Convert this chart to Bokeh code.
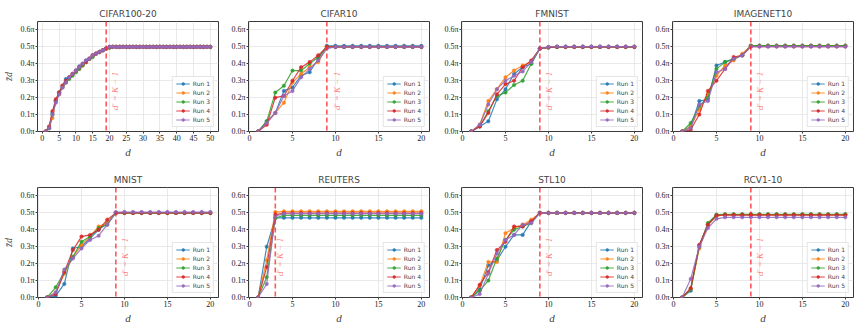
import math
from bokeh.plotting import figure
from bokeh.layouts import column, row
from bokeh.models import Span, Label, FixedTicker, CustomJSTickFormatter, Range1d, AllLabels
from bokeh.embed import file_html
from bokeh.resources import INLINE

runs = ["Run 1", "Run 2", "Run 3", "Run 4", "Run 5"]
colors = ["#1f77b4", "#ff7f0e", "#2ca02c", "#d62728", "#9467bd"]
titles = ["CIFAR100-20", "CIFAR10", "FMNIST", "IMAGENET10", "MNIST", "REUTERS", "STL10", "RCV1-10"]
k_minus_1 = [19, 9, 9, 9, 9, 3, 9, 9]
y_ticks = [0.0, 0.1, 0.2, 0.3, 0.4, 0.5, 0.6]
x_ticks_50 = [0, 5, 10, 15, 20, 25, 30, 35, 40, 45, 50]
x_ticks_20 = [0, 5, 10, 15, 20]
d_50 = list(range(1, 51))
d_20 = list(range(1, 21))

# values in units of pi
cifar100_20 = [
    [0.0, 0.02, 0.11, 0.18, 0.23, 0.27, 0.31, 0.32, 0.34, 0.36, 0.385, 0.40, 0.42, 0.43, 0.45, 0.46, 0.47, 0.48, 0.49, 0.50,
     0.5, 0.5, 0.5, 0.5, 0.5, 0.5, 0.5, 0.5, 0.5, 0.5,
     0.5, 0.5, 0.5, 0.5, 0.5, 0.5, 0.5, 0.5, 0.5, 0.5,
     0.5, 0.5, 0.5, 0.5, 0.5, 0.5, 0.5, 0.5, 0.5, 0.5],
    [0.0, 0.02, 0.08, 0.18, 0.22, 0.27, 0.29, 0.32, 0.34, 0.355, 0.37, 0.39, 0.41, 0.43, 0.45, 0.46, 0.47, 0.48, 0.49, 0.495,
     0.5, 0.5, 0.5, 0.5, 0.5, 0.5, 0.5, 0.5, 0.5, 0.5,
     0.5, 0.5, 0.5, 0.5, 0.5, 0.5, 0.5, 0.5, 0.5, 0.5,
     0.5, 0.5, 0.5, 0.5, 0.5, 0.5, 0.5, 0.5, 0.5, 0.5],
    [0.0, 0.02, 0.10, 0.18, 0.23, 0.26, 0.29, 0.31, 0.33, 0.35, 0.37, 0.39, 0.41, 0.43, 0.44, 0.46, 0.47, 0.48, 0.49, 0.495,
     0.5, 0.5, 0.5, 0.5, 0.5, 0.5, 0.5, 0.5, 0.5, 0.5,
     0.5, 0.5, 0.5, 0.5, 0.5, 0.5, 0.5, 0.5, 0.5, 0.5,
     0.5, 0.5, 0.5, 0.5, 0.5, 0.5, 0.5, 0.5, 0.5, 0.5],
    [0.0, 0.03, 0.12, 0.19, 0.23, 0.27, 0.30, 0.32, 0.34, 0.36, 0.38, 0.40, 0.41, 0.43, 0.45, 0.46, 0.47, 0.48, 0.49, 0.50,
     0.5, 0.5, 0.5, 0.5, 0.5, 0.5, 0.5, 0.5, 0.5, 0.5,
     0.5, 0.5, 0.5, 0.5, 0.5, 0.5, 0.5, 0.5, 0.5, 0.5,
     0.5, 0.5, 0.5, 0.5, 0.5, 0.5, 0.5, 0.5, 0.5, 0.5],
    [0.0, 0.02, 0.10, 0.17, 0.22, 0.26, 0.29, 0.32, 0.34, 0.36, 0.38, 0.40, 0.42, 0.43, 0.45, 0.46, 0.47, 0.48, 0.49, 0.50,
     0.5, 0.5, 0.5, 0.5, 0.5, 0.5, 0.5, 0.5, 0.5, 0.5,
     0.5, 0.5, 0.5, 0.5, 0.5, 0.5, 0.5, 0.5, 0.5, 0.5,
     0.5, 0.5, 0.5, 0.5, 0.5, 0.5, 0.5, 0.5, 0.5, 0.5],
]

cifar10 = [
    [0.0, 0.06, 0.11, 0.24, 0.26, 0.33, 0.35, 0.43, 0.506, 0.506, 0.506, 0.506, 0.506, 0.506, 0.506, 0.506, 0.506, 0.506, 0.506, 0.506],
    [0.0, 0.05, 0.11, 0.17, 0.29, 0.34, 0.38, 0.41, 0.50, 0.5, 0.5, 0.5, 0.5, 0.5, 0.5, 0.5, 0.5, 0.5, 0.5, 0.5],
    [0.0, 0.06, 0.23, 0.27, 0.36, 0.36, 0.40, 0.44, 0.50, 0.5, 0.5, 0.5, 0.5, 0.5, 0.5, 0.5, 0.5, 0.5, 0.5, 0.5],
    [0.0, 0.04, 0.20, 0.21, 0.30, 0.38, 0.41, 0.45, 0.50, 0.5, 0.5, 0.5, 0.5, 0.5, 0.5, 0.5, 0.5, 0.5, 0.5, 0.5],
    [0.0, 0.05, 0.11, 0.21, 0.24, 0.32, 0.37, 0.42, 0.49, 0.5, 0.5, 0.5, 0.5, 0.5, 0.5, 0.5, 0.5, 0.5, 0.5, 0.5],
]

fmnist = [
    [0.0, 0.03, 0.06, 0.19, 0.25, 0.34, 0.38, 0.40, 0.49, 0.497, 0.5, 0.5, 0.5, 0.5, 0.5, 0.5, 0.5, 0.5, 0.5, 0.5],
    [0.0, 0.04, 0.18, 0.25, 0.32, 0.36, 0.39, 0.41, 0.49, 0.497, 0.5, 0.5, 0.5, 0.5, 0.5, 0.5, 0.5, 0.5, 0.5, 0.5],
    [0.0, 0.03, 0.12, 0.21, 0.23, 0.275, 0.30, 0.40, 0.49, 0.497, 0.5, 0.5, 0.5, 0.5, 0.5, 0.5, 0.5, 0.5, 0.5, 0.5],
    [0.0, 0.03, 0.11, 0.22, 0.28, 0.30, 0.38, 0.42, 0.49, 0.497, 0.5, 0.5, 0.5, 0.5, 0.5, 0.5, 0.5, 0.5, 0.5, 0.5],
    [0.0, 0.04, 0.16, 0.25, 0.30, 0.33, 0.355, 0.41, 0.49, 0.5, 0.502, 0.502, 0.502, 0.502, 0.502, 0.502, 0.502, 0.502, 0.502, 0.502],
]

imagenet10 = [
    [0.0, 0.03, 0.18, 0.19, 0.39, 0.41, 0.43, 0.45, 0.507, 0.507, 0.507, 0.507, 0.507, 0.507, 0.507, 0.507, 0.507, 0.507, 0.507, 0.507],
    [0.0, 0.03, 0.13, 0.22, 0.33, 0.39, 0.42, 0.46, 0.507, 0.507, 0.507, 0.507, 0.507, 0.507, 0.507, 0.507, 0.507, 0.507, 0.507, 0.507],
    [0.0, 0.05, 0.15, 0.20, 0.37, 0.41, 0.43, 0.45, 0.507, 0.507, 0.507, 0.507, 0.507, 0.507, 0.507, 0.507, 0.507, 0.507, 0.507, 0.507],
    [0.0, 0.01, 0.10, 0.24, 0.30, 0.37, 0.44, 0.45, 0.502, 0.502, 0.502, 0.502, 0.502, 0.502, 0.502, 0.502, 0.502, 0.502, 0.502, 0.502],
    [0.0, 0.02, 0.16, 0.18, 0.35, 0.37, 0.43, 0.45, 0.502, 0.502, 0.502, 0.502, 0.502, 0.502, 0.502, 0.502, 0.502, 0.502, 0.502, 0.502],
]

mnist = [
    [0.0, 0.01, 0.08, 0.29, 0.30, 0.35, 0.40, 0.44, 0.50, 0.5, 0.5, 0.5, 0.5, 0.5, 0.5, 0.5, 0.5, 0.5, 0.5, 0.5],
    [0.0, 0.03, 0.14, 0.24, 0.31, 0.36, 0.42, 0.44, 0.50, 0.5, 0.5, 0.5, 0.5, 0.5, 0.5, 0.5, 0.5, 0.5, 0.5, 0.5],
    [0.0, 0.06, 0.15, 0.24, 0.33, 0.36, 0.41, 0.43, 0.50, 0.5, 0.5, 0.5, 0.5, 0.5, 0.5, 0.5, 0.5, 0.5, 0.5, 0.5],
    [0.0, 0.02, 0.15, 0.28, 0.36, 0.37, 0.40, 0.46, 0.50, 0.5, 0.5, 0.5, 0.5, 0.5, 0.5, 0.5, 0.5, 0.5, 0.5, 0.5],
    [0.0, 0.03, 0.165, 0.23, 0.29, 0.34, 0.365, 0.43, 0.505, 0.505, 0.505, 0.505, 0.505, 0.505, 0.505, 0.505, 0.505, 0.505, 0.505, 0.505],
]

reuters = [
    [0.0, 0.30, 0.47, 0.471, 0.471, 0.471, 0.471, 0.471, 0.471, 0.471, 0.471, 0.471, 0.471, 0.471, 0.471, 0.471, 0.471, 0.471, 0.471, 0.471],
    [0.0, 0.22, 0.505, 0.509, 0.509, 0.509, 0.509, 0.509, 0.509, 0.509, 0.509, 0.509, 0.509, 0.509, 0.509, 0.509, 0.509, 0.509, 0.509, 0.509],
    [0.0, 0.12, 0.47, 0.485, 0.485, 0.485, 0.485, 0.485, 0.485, 0.485, 0.485, 0.485, 0.485, 0.485, 0.485, 0.485, 0.485, 0.485, 0.485, 0.485],
    [0.0, 0.18, 0.49, 0.499, 0.499, 0.499, 0.499, 0.499, 0.499, 0.499, 0.499, 0.499, 0.499, 0.499, 0.499, 0.499, 0.499, 0.499, 0.499, 0.499],
    [0.0, 0.08, 0.48, 0.495, 0.495, 0.495, 0.495, 0.495, 0.495, 0.495, 0.495, 0.495, 0.495, 0.495, 0.495, 0.495, 0.495, 0.495, 0.495, 0.495],
]

stl10 = [
    [0.0, 0.05, 0.19, 0.22, 0.30, 0.37, 0.37, 0.45, 0.50, 0.5, 0.5, 0.5, 0.5, 0.5, 0.5, 0.5, 0.5, 0.5, 0.5, 0.5],
    [0.0, 0.07, 0.21, 0.21, 0.38, 0.41, 0.43, 0.46, 0.50, 0.5, 0.5, 0.5, 0.5, 0.5, 0.5, 0.5, 0.5, 0.5, 0.5, 0.5],
    [0.0, 0.04, 0.10, 0.23, 0.34, 0.40, 0.42, 0.44, 0.50, 0.5, 0.5, 0.5, 0.5, 0.5, 0.5, 0.5, 0.5, 0.5, 0.5, 0.5],
    [0.0, 0.075, 0.15, 0.28, 0.33, 0.42, 0.42, 0.45, 0.50, 0.5, 0.5, 0.5, 0.5, 0.5, 0.5, 0.5, 0.5, 0.5, 0.5, 0.5],
    [0.0, 0.02, 0.14, 0.26, 0.34, 0.37, 0.43, 0.44, 0.50, 0.5, 0.5, 0.5, 0.5, 0.5, 0.5, 0.5, 0.5, 0.5, 0.5, 0.5],
]

rcv1_10 = [
    [0.0, 0.04, 0.31, 0.43, 0.485, 0.49, 0.49, 0.49, 0.49, 0.49, 0.49, 0.49, 0.49, 0.49, 0.49, 0.49, 0.49, 0.49, 0.49, 0.49],
    [0.0, 0.05, 0.29, 0.43, 0.48, 0.49, 0.49, 0.49, 0.49, 0.49, 0.49, 0.49, 0.49, 0.49, 0.49, 0.49, 0.49, 0.49, 0.49, 0.49],
    [0.0, 0.05, 0.30, 0.44, 0.49, 0.492, 0.492, 0.492, 0.492, 0.492, 0.492, 0.492, 0.492, 0.492, 0.492, 0.492, 0.492, 0.492, 0.492, 0.492],
    [0.0, 0.055, 0.31, 0.43, 0.485, 0.487, 0.487, 0.487, 0.487, 0.487, 0.487, 0.487, 0.487, 0.487, 0.487, 0.487, 0.487, 0.487, 0.487, 0.487],
    [0.0, 0.11, 0.30, 0.41, 0.465, 0.474, 0.474, 0.474, 0.474, 0.474, 0.474, 0.474, 0.474, 0.474, 0.474, 0.474, 0.474, 0.474, 0.474, 0.474],
]

datasets = [cifar100_20, cifar10, fmnist, imagenet10, mnist, reuters, stl10, rcv1_10]
xvals = [d_50, d_20, d_20, d_20, d_20, d_20, d_20, d_20]
xticks = [x_ticks_50, x_ticks_20, x_ticks_20, x_ticks_20, x_ticks_20, x_ticks_20, x_ticks_20, x_ticks_20]

for ds, xs in zip(datasets, xvals):
    for s in ds:
        assert len(s) == len(xs), (len(s), len(xs))

# layout (style)
col_widths = [226, 213, 212, 208]
col_left = [37, 22, 22, 21]
col_right = [8, 10, 9, 6]
row_heights = [166, 163]
row_bottom = [35, 32]
label_offsets = [9, 10, 9, 9, 9, 5, 9, 9]

FRAME = "#3a3a3a"
SERIF = "Liberation Serif"


def make_panel(i):
    r, c = divmod(i, 4)
    xs = xvals[i]
    lo, hi = min(xs), max(xs)
    pad = 0.05 * (hi - lo)
    p = figure(width=col_widths[c], height=row_heights[r],
               output_backend="svg", toolbar_location=None,
               min_border_left=col_left[c], min_border_right=col_right[c],
               min_border_top=21, min_border_bottom=row_bottom[r],
               x_range=Range1d(min(lo - pad, -0.12), hi + pad), y_range=Range1d(0, 0.65))
    p.title.text = titles[i]
    p.title.align = "center"
    p.title.text_font = "DejaVu Sans"
    p.title.text_font_size = "9px"
    p.title.text_font_style = "normal"
    p.title.standoff = 6
    p.background_fill_color = "white"
    p.border_fill_color = "white"
    p.outline_line_color = FRAME
    p.outline_line_width = 1
    p.outline_line_alpha = 1

    p.grid.grid_line_color = "#e3e3e3"
    p.grid.grid_line_width = 0.8

    p.xaxis.ticker = FixedTicker(ticks=xticks[i])
    p.yaxis.ticker = FixedTicker(ticks=y_ticks)
    p.yaxis.formatter = CustomJSTickFormatter(code="return tick.toFixed(1) + 'π';")
    for ax in (p.xaxis, p.yaxis):
        ax.axis_line_color = None
        ax.minor_tick_line_color = None
        ax.major_tick_line_color = FRAME
        ax.major_tick_out = 2
        ax.major_tick_in = 0
        ax.major_label_standoff = 1
        ax.major_label_policy = AllLabels()
        ax.major_label_text_font = SERIF
        ax.major_label_text_font_size = "8px"
        ax.major_label_text_color = "#222222"
    p.xaxis.axis_label = "d"
    p.xaxis.axis_label_text_font = SERIF
    p.xaxis.axis_label_text_font_style = "italic"
    p.xaxis.axis_label_text_font_size = "11px"
    p.xaxis.axis_label_standoff = 2
    if c == 0:
        p.yaxis.axis_label = "z\u0304d"
        p.yaxis.axis_label_text_font = SERIF
        p.yaxis.axis_label_text_font_style = "italic"
        p.yaxis.axis_label_text_font_size = "10px"
        p.yaxis.axis_label_standoff = 3

    for s, name, col in zip(datasets[i], runs, colors):
        p.line(xs, s, line_color=col, line_width=1.2, line_alpha=0.85, legend_label=name)
        p.scatter(xs, s, size=3.5, fill_color=col, line_color=col, line_width=0.5,
                  alpha=0.9, legend_label=name)

    k = k_minus_1[i]
    p.add_layout(Span(location=k, dimension="height", line_color="#ff2020",
                      line_alpha=0.75, line_width=1.6, line_dash="5 3"))
    p.add_layout(Label(x=k, y=0.24, text="d\u2032 = K \u2212 1", angle=math.pi / 2,
                       angle_units="rad", x_offset=label_offsets[i],
                       text_align="center", text_baseline="middle",
                       text_color="#ff2020", text_alpha=0.6, text_font=SERIF,
                       text_font_style="italic", text_font_size="9px"))

    lg = p.legend[0]
    lg.location = "bottom_right"
    lg.label_text_font = "DejaVu Sans"
    lg.label_text_font_size = "6px"
    lg.glyph_width = 14
    lg.glyph_height = 7
    lg.label_height = 7
    lg.label_width = 15
    lg.label_standoff = 3
    lg.spacing = 2
    lg.padding = 3
    lg.margin = 4
    lg.border_line_color = "#cccccc"
    lg.border_line_width = 0.8
    lg.background_fill_alpha = 0.85
    return p


figs = [make_panel(i) for i in range(8)]
layout = column(row(*figs[:4]), row(*figs[4:]))

with open("out.html", "w") as f:
    f.write(file_html(layout, INLINE))
